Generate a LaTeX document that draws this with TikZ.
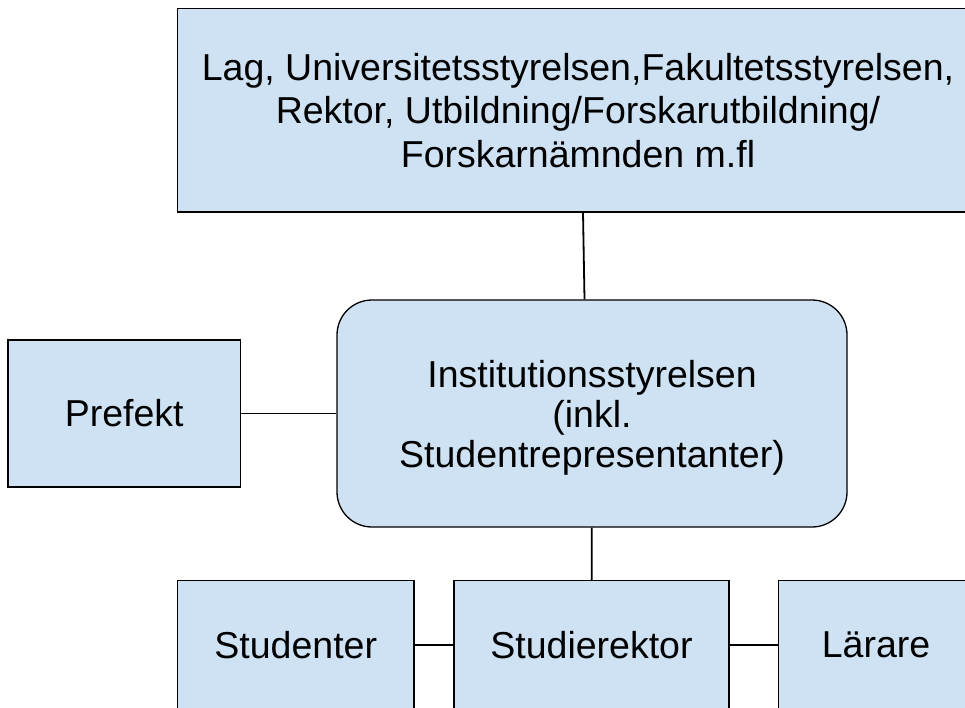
\documentclass[tikz,border=0pt]{standalone}
\usepackage{fontspec}
\setmainfont{Liberation Sans}
\usetikzlibrary{calc}

\begin{document}
\begin{tikzpicture}[x=1pt, y=-1pt,
		box/.style = {draw, line width = 1.3pt, fill = boxblue, align = center, inner sep = 0pt,
			font = \fontsize{37.5}{43.5}\selectfont},
		link/.style = {line width = 1.8pt}]
		\definecolor{boxblue}{HTML}{CFE2F3}
		
		\useasboundingbox (0,0) rectangle (965,708);
		\clip (0,0) rectangle (965,708);
		
		\node [box, minimum width = 801pt, minimum height = 203.5pt] (styrning) at (578,110.25)
			{Lag, Universitetsstyrelsen,Fakultetsstyrelsen,\\ Rektor, Utbildning/Forskarutbildning/\\ Forskarnämnden m.fl};
		\node [box, rounded corners = 35pt, minimum width = 510pt, minimum height = 227pt, text depth = 0pt,
			font = \fontsize{37.5}{40}\selectfont] (inststyrelse) at (592,413.5)
			{Institutionsstyrelsen\\ (inkl.\\ Studentrepresentanter)};
		\node [box, minimum width = 232.5pt, minimum height = 147pt] (prefekt) at (124.25,413.5) {Prefekt};
		
		\node [box, minimum width = 236.5pt, minimum height = 129pt] (studenter) at (295.75,645) {Studenter};
		\node [box, minimum width = 275pt, minimum height = 129pt] (studierektor) at (591.5,645) {Studierektor};
		\node [box, minimum width = 195pt, minimum height = 129pt] (larare) at (876,645) {Lärare};
		
		\draw [link] ($ (styrning.south) + (5,0) $) -- ($ (inststyrelse.north) + (-7.5,0) $);
		\draw [link] (prefekt) -- (inststyrelse);
		\draw [link] (inststyrelse) -- (studierektor);
		\draw [link] (studenter) -- (studierektor);
		\draw [link] (studierektor) -- (larare);
	\end{tikzpicture}
\end{document}
